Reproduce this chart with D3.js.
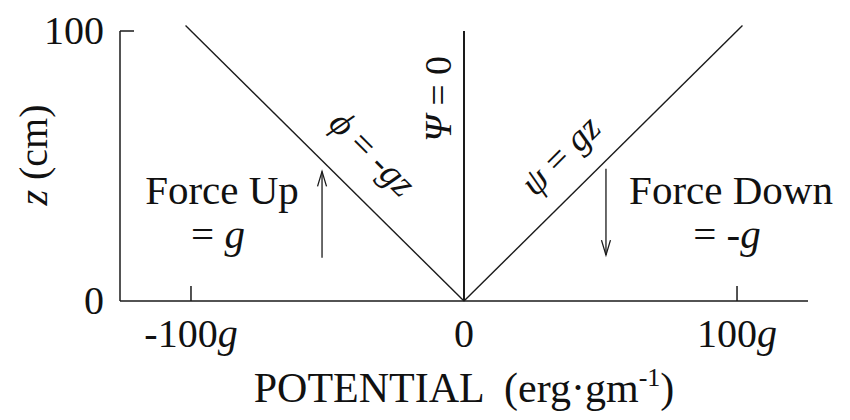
<!DOCTYPE html>
<html>
<head>
<meta charset="utf-8">
<script src="https://cdn.jsdelivr.net/npm/d3@7"></script>
<style>
  html, body { margin: 0; padding: 0; background: #fff; }
  svg { display: block; }
  text { font-family: "Liberation Serif", "DejaVu Serif", serif; fill: #111; white-space: pre; }
</style>
</head>
<body>
<svg id="chart" width="850" height="420"></svg>
<script>
// Potential (in units of g) along the horizontal axis, height z (cm) vertically
const potentialTicks = [-100, 0, 100];
const potentialTickLabels = [["-100", "g"], ["0", ""], ["100", "g"]];
const zTicks = [100];
const zTickLabels = ["0", "100"];
const zLabelValues = [0, 100];

// Potential lines: phi = -gz, psi = gz and Psi = 0
const phiLine = [{ p: 0, z: 0 }, { p: -102, z: 102 }];
const psiLine = [{ p: 0, z: 0 }, { p: 102, z: 102 }];
const zeroLine = [{ p: 0, z: 0 }, { p: 0, z: 100 }];

// Force arrows: potential position, start z, end z
const forceArrows = [
  { p: -52, from: 16, to: 48 },
  { p: 52, from: 49, to: 17 }
];

const svg = d3.select("#chart");
const x = d3.scaleLinear().domain([-126, 126]).range([120, 808]);
const y = d3.scaleLinear().domain([0, 100]).range([301, 31]);

const ink = "#1a1a1a";
const fs = 40;

// axes
svg.append("line")
  .attr("x1", x(-126)).attr("x2", x(126))
  .attr("y1", y(0)).attr("y2", y(0))
  .attr("stroke", ink).attr("stroke-width", 1.5);
svg.append("line")
  .attr("x1", x(-126)).attr("x2", x(-126))
  .attr("y1", y(0)).attr("y2", y(100))
  .attr("stroke", ink).attr("stroke-width", 1.5);

// inward ticks on the potential axis (0 is covered by the Psi = 0 line)
svg.selectAll(".xtick").data(potentialTicks.filter(d => d !== 0)).join("line")
  .attr("x1", d => x(d)).attr("x2", d => x(d))
  .attr("y1", y(0)).attr("y2", y(0) - 15)
  .attr("stroke", ink).attr("stroke-width", 1.5);

// inward tick at z = 100
svg.selectAll(".ytick").data(zTicks).join("line")
  .attr("x1", x(-126)).attr("x2", x(-126) + 14)
  .attr("y1", d => y(d)).attr("y2", d => y(d))
  .attr("stroke", ink).attr("stroke-width", 1.5);

// tick labels
const xl = svg.selectAll(".xlab").data(potentialTicks).join("text")
  .attr("x", d => x(d)).attr("y", y(0) + 46)
  .attr("text-anchor", "middle").attr("font-size", fs);
xl.append("tspan").text((d, i) => potentialTickLabels[i][0]);
xl.append("tspan").attr("font-style", "italic").text((d, i) => potentialTickLabels[i][1]);

svg.selectAll(".ylab").data(zLabelValues).join("text")
  .attr("x", x(-126) - 16).attr("y", d => y(d) + 13)
  .attr("text-anchor", "end").attr("font-size", fs)
  .text((d, i) => zTickLabels[i]);

// axis titles
const xt = svg.append("text")
  .attr("x", 464).attr("y", 402)
  .attr("text-anchor", "middle").attr("font-size", 42);
xt.append("tspan").text("POTENTIAL  (erg·gm");
xt.append("tspan").attr("font-size", 26).attr("dy", -16).text("-1");
xt.append("tspan").attr("dy", 16).text(")");

const yt = svg.append("text")
  .attr("transform", "translate(47,155) rotate(-90)")
  .attr("text-anchor", "middle").attr("font-size", fs);
yt.append("tspan").attr("font-style", "italic").text("z");
yt.append("tspan").text(" (cm)");

// potential lines
const line = d3.line().x(d => x(d.p)).y(d => y(d.z));
[phiLine, psiLine].forEach(l => {
  svg.append("path").attr("d", line(l))
    .attr("fill", "none").attr("stroke", ink).attr("stroke-width", 1.4);
});
svg.append("path").attr("d", line(zeroLine))
  .attr("fill", "none").attr("stroke", ink).attr("stroke-width", 2);

// force arrows
forceArrows.forEach(a => {
  const ax = x(a.p), y0 = y(a.from), y1 = y(a.to);
  const dir = y1 < y0 ? 1 : -1;
  svg.append("line")
    .attr("x1", ax).attr("x2", ax).attr("y1", y0).attr("y2", y1)
    .attr("stroke", ink).attr("stroke-width", 1.3);
  svg.append("path")
    .attr("d", `M${ax - 4.5},${y1 + dir * 15} L${ax},${y1} L${ax + 4.5},${y1 + dir * 15}`)
    .attr("fill", "none").attr("stroke", ink).attr("stroke-width", 1.3);
});

// line labels
const phiLab = svg.append("text")
  .attr("transform", "translate(364,162) rotate(45)")
  .attr("text-anchor", "middle").attr("font-size", 37);
phiLab.append("tspan").attr("font-style", "italic").text("ϕ");
phiLab.append("tspan").text(" = -");
phiLab.append("tspan").attr("font-style", "italic").text("gz");

const psiLab = svg.append("text")
  .attr("transform", "translate(569,164) rotate(-45)")
  .attr("text-anchor", "middle").attr("font-size", 37);
psiLab.append("tspan").attr("font-style", "italic").text("ψ");
psiLab.append("tspan").text(" = ");
psiLab.append("tspan").attr("font-style", "italic").text("gz");

const zeroLab = svg.append("text")
  .attr("transform", "translate(451,99) rotate(-90)")
  .attr("text-anchor", "middle").attr("font-size", 38);
zeroLab.append("tspan").attr("font-style", "italic").text("Ψ");
zeroLab.append("tspan").text(" = 0");

// force annotations
svg.append("text").attr("x", 222).attr("y", 204)
  .attr("text-anchor", "middle").attr("font-size", 41).text("Force Up");
const fu = svg.append("text").attr("x", 218).attr("y", 248)
  .attr("text-anchor", "middle").attr("font-size", 41);
fu.append("tspan").text("= ");
fu.append("tspan").attr("font-style", "italic").text("g");

svg.append("text").attr("x", 731).attr("y", 204)
  .attr("text-anchor", "middle").attr("font-size", 41).text("Force Down");
const fd = svg.append("text").attr("x", 727).attr("y", 248)
  .attr("text-anchor", "middle").attr("font-size", 41);
fd.append("tspan").text("= -");
fd.append("tspan").attr("font-style", "italic").text("g");
</script>
</body>
</html>
